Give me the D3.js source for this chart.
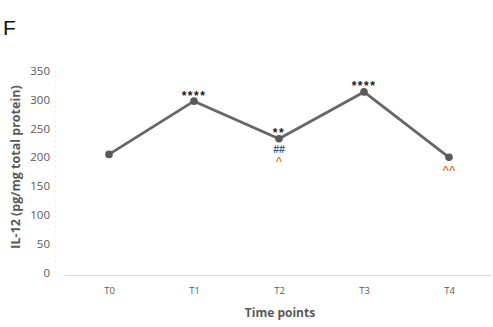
<!DOCTYPE html>
<html>
<head>
<meta charset="utf-8">
<script src="https://cdn.jsdelivr.net/npm/d3@7"></script>
<style>
  html, body { margin: 0; padding: 0; background: #fff; }
  svg { display: block; }
</style>
</head>
<body>
<svg id="chart" width="493" height="327"></svg>
<script>
// IL-12 levels over time points
const categories = ["T0", "T1", "T2", "T3", "T4"];
const il12Values = [205, 297, 232, 313, 200];
const yTicks = [0, 50, 100, 150, 200, 250, 300, 350];

// Significance marks: above the point (black), below the point (blue, orange)
const starMarks  = ["", "****", "**", "****", ""];
const hashMarks  = ["", "", "##", "", ""];
const caretMarks = ["", "", "^", "", "^^"];

const svg = d3.select("#chart");

const x = d3.scalePoint().domain(categories).range([66.5, 491.5]).padding(0.5);
const y = d3.scaleLinear().domain([0, 350]).range([273, 70.5]);

const font = "'Open Sans', 'Liberation Sans', sans-serif";

// Panel letter
svg.append("text")
  .attr("x", 3).attr("y", 35)
  .attr("font-family", "'Liberation Sans', Arial, sans-serif")
  .attr("font-size", 21)
  .attr("fill", "#111")
  .text("F");

// faint vertical axis
svg.append("line")
  .attr("x1", 55.5).attr("x2", 55.5)
  .attr("y1", y(350)).attr("y2", y(0))
  .attr("stroke", "#ececec").attr("stroke-width", 1)
  .attr("stroke-dasharray", "2,3");

// y tick labels
const yAxis = d3.axisLeft(y).tickValues(yTicks).tickSize(0).tickPadding(0);
const gy = svg.append("g").attr("transform", "translate(50,0)").call(yAxis);
gy.select(".domain").remove();
gy.selectAll("text")
  .attr("font-family", font)
  .attr("font-size", 11.5)
  .attr("fill", "#595959");

// x axis
const xAxis = d3.axisBottom(x).tickSize(0).tickPadding(12);
const gx = svg.append("g").attr("transform", `translate(0,${y(0) + 2})`).call(xAxis);
gx.select(".domain")
  .attr("d", `M65,0.5H491`)
  .attr("stroke", "#d9d9d9").attr("stroke-width", 1);
gx.selectAll("text")
  .attr("font-family", font)
  .attr("font-size", 9.5)
  .attr("fill", "#595959");

// axis titles
svg.append("text")
  .attr("x", 280).attr("y", 317)
  .attr("text-anchor", "middle")
  .attr("font-family", font)
  .attr("font-size", 12)
  .attr("font-weight", "bold")
  .attr("fill", "#595959")
  .text("Time points");

svg.append("text")
  .attr("transform", `translate(20,167) rotate(-90)`)
  .attr("text-anchor", "middle")
  .attr("font-family", font)
  .attr("font-size", 12.5)
  .attr("font-weight", "bold")
  .attr("fill", "#595959")
  .text("IL-12 (pg/mg total protein)");

// line and markers
const pts = categories.map((c, i) => ({ c, v: il12Values[i], i }));
svg.append("path")
  .datum(pts)
  .attr("fill", "none")
  .attr("stroke", "#666666")
  .attr("stroke-width", 2.8)
  .attr("stroke-linejoin", "round")
  .attr("d", d3.line().x(d => x(d.c)).y(d => y(d.v)));

svg.selectAll("circle.pt")
  .data(pts)
  .join("circle")
  .attr("class", "pt")
  .attr("cx", d => x(d.c)).attr("cy", d => y(d.v))
  .attr("r", 3.8)
  .attr("fill", "#595959");

// significance labels
const markFont = "'Liberation Sans', Arial, sans-serif";
svg.selectAll("text.star")
  .data(pts.filter(d => starMarks[d.i]))
  .join("text")
  .attr("class", "star")
  .attr("x", d => x(d.c)).attr("y", d => y(d.v) - 1.5)
  .attr("text-anchor", "middle")
  .attr("font-family", markFont)
  .attr("font-size", 12)
  .attr("font-weight", "bold")
  .attr("letter-spacing", 1.5)
  .attr("fill", "#1a1a1a")
  .text(d => starMarks[d.i]);

svg.selectAll("text.hash")
  .data(pts.filter(d => hashMarks[d.i]))
  .join("text")
  .attr("class", "hash")
  .attr("x", d => x(d.c)).attr("y", d => y(d.v) + 14)
  .attr("text-anchor", "middle")
  .attr("font-family", markFont)
  .attr("font-size", 10.5)
  .attr("font-weight", "bold")
  .attr("fill", "#2f5597")
  .text(d => hashMarks[d.i]);

svg.selectAll("text.caret")
  .data(pts.filter(d => caretMarks[d.i]))
  .join("text")
  .attr("class", "caret")
  .attr("x", d => x(d.c))
  .attr("y", d => y(d.v) + (d.i === 2 ? 26.5 : 17))
  .attr("text-anchor", "middle")
  .attr("font-family", markFont)
  .attr("font-size", 11)
  .attr("font-weight", "bold")
  .attr("fill", "#e0762f")
  .text(d => caretMarks[d.i]);
</script>
</body>
</html>
